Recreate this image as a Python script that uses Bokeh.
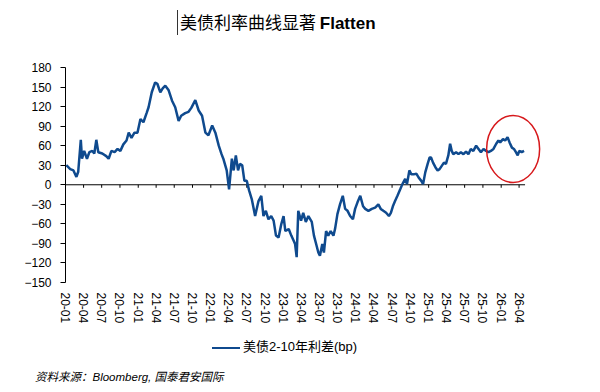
import pandas as pd
from bokeh.plotting import figure
from bokeh.layouts import column
from bokeh.models import (ColumnDataSource, FixedTicker, DatetimeTickFormatter, Div, Range1d)
from bokeh.embed import file_html
from bokeh.resources import INLINE

# ---------------- data ----------------
dates = [
    "2020-01-05", "2020-01-25", "2020-02-10", "2020-02-25", "2020-03-05", "2020-03-18", "2020-03-24",
    "2020-04-04", "2020-04-18", "2020-04-30", "2020-05-15", "2020-05-25", "2020-06-04", "2020-06-14",
    "2020-07-04", "2020-07-24", "2020-08-05", "2020-08-19", "2020-09-04", "2020-09-19", "2020-10-03",
    "2020-10-18", "2020-11-03", "2020-11-14", "2020-11-28", "2020-12-13", "2020-12-28", "2021-01-12",
    "2021-01-27", "2021-02-12", "2021-02-22", "2021-03-10", "2021-03-27", "2021-04-07", "2021-04-22",
    "2021-05-04", "2021-05-17", "2021-06-03", "2021-06-20", "2021-07-06", "2021-07-23", "2021-08-05",
    "2021-08-25", "2021-09-11", "2021-09-25", "2021-10-15", "2021-11-01", "2021-11-18", "2021-12-05",
    "2021-12-20", "2022-01-08", "2022-01-24", "2022-02-10", "2022-02-24", "2022-03-05", "2022-03-22",
    "2022-04-03", "2022-04-17", "2022-04-26", "2022-05-07", "2022-05-18", "2022-05-28", "2022-06-08",
    "2022-06-19", "2022-07-01", "2022-07-13", "2022-07-26", "2022-08-12", "2022-08-29", "2022-09-12",
    "2022-09-23", "2022-10-05", "2022-10-18", "2022-11-01", "2022-11-13", "2022-11-25", "2022-12-08",
    "2022-12-22", "2023-01-02", "2023-01-11", "2023-01-28", "2023-02-10", "2023-02-22", "2023-03-01",
    "2023-03-09", "2023-03-17", "2023-03-31", "2023-04-11", "2023-04-24", "2023-05-07", "2023-05-24",
    "2023-06-04", "2023-06-15", "2023-06-26", "2023-07-04", "2023-07-16", "2023-07-24", "2023-08-04",
    "2023-08-15", "2023-08-27", "2023-09-10", "2023-09-18", "2023-09-30", "2023-10-13", "2023-10-27",
    "2023-11-08", "2023-11-20", "2023-12-03", "2023-12-17", "2023-12-28", "2024-01-09", "2024-01-23",
    "2024-02-06", "2024-02-17", "2024-03-04", "2024-03-21", "2024-04-07", "2024-04-23", "2024-05-05",
    "2024-05-18", "2024-06-01", "2024-06-15", "2024-06-25", "2024-07-05", "2024-07-16", "2024-07-28",
    "2024-08-11", "2024-08-22", "2024-09-05", "2024-09-14", "2024-09-26", "2024-10-06", "2024-10-17",
    "2024-10-31", "2024-11-12", "2024-11-25", "2024-12-04", "2024-12-15", "2024-12-27", "2025-01-06",
    "2025-01-13", "2025-01-23", "2025-02-04", "2025-02-15", "2025-02-25", "2025-03-08", "2025-03-19",
    "2025-03-29", "2025-04-10", "2025-04-19", "2025-04-27", "2025-05-05", "2025-05-19", "2025-05-31",
    "2025-06-12", "2025-06-25", "2025-07-08", "2025-07-20", "2025-08-01", "2025-08-14", "2025-08-28",
    "2025-09-09", "2025-09-21", "2025-10-04", "2025-10-17", "2025-10-29", "2025-11-10", "2025-11-23",
    "2025-12-07", "2025-12-18", "2025-12-27", "2026-01-10", "2026-01-21", "2026-02-02", "2026-02-12",
    "2026-02-24", "2026-03-06", "2026-03-16", "2026-03-25", "2026-04-02", "2026-04-14", "2026-04-26",
]
spread = [
    30, 24, 22, 12, 20, 69, 40,
    52, 40, 50, 52, 48, 69, 50,
    48, 44, 40, 52, 50, 55, 52,
    62, 68, 80, 72, 80, 80, 101,
    96, 110, 119, 142, 157, 155, 142,
    148, 152, 145, 129, 119, 98, 106,
    110, 112, 118, 130, 114, 106, 80,
    76, 91, 80, 60, 47, 40, 22,
    -7, 40, 22, 45, 22, 32, 30,
    6, 6, -9, -22, -48, -25, -17,
    -48, -40, -53, -48, -55, -78, -81,
    -60, -48, -71, -68, -78, -86, -91,
    -111, -40, -55, -43, -57, -48, -57,
    -78, -91, -104, -109, -91, -104, -71,
    -78, -71, -78, -68, -45, -30, -17,
    -37, -40, -48, -53, -37, -27, -17,
    -33, -37, -40, -37, -35, -30, -37,
    -40, -43, -48, -43, -33, -25, -17,
    -7, 1, 9, 1, 22, 16, 16,
    17, 11, 6, 1, 19, 32, 42,
    42, 34, 27, 22, 24, 29, 34,
    32, 45, 63, 52, 47, 50, 47,
    50, 47, 51, 47, 55, 52, 60,
    55, 50, 55, 52, 50, 52, 55,
    63, 68, 65, 70, 68, 73, 65,
    57, 55, 50, 45, 52, 50, 52,
]
tick_months = [
    "2020-01", "2020-04", "2020-07", "2020-10", "2021-01", "2021-04", "2021-07", "2021-10",
    "2022-01", "2022-04", "2022-07", "2022-10", "2023-01", "2023-04", "2023-07", "2023-10",
    "2024-01", "2024-04", "2024-07", "2024-10", "2025-01", "2025-04", "2025-07", "2025-10",
    "2026-01", "2026-04",
]
y_ticks = [-150, -120, -90, -60, -30, 0, 30, 60, 90, 120, 150, 180]
axis_start = "2020-01-01"
axis_end = "2026-05-01"
view_end = "2026-09-01"
highlight_date = "2026-03-02"
highlight_value = 55

title_cn = "美债利率曲线显著"
title_en = "Flatten"
series_name = "美债2-10年利差(bp)"
source_text = "资料来源：Bloomberg, 国泰君安国际"

LINE_COLOR = "#0F4A8E"


def ms(s):
    return pd.Timestamp(s).value / 1e6


src = ColumnDataSource(dict(date=pd.to_datetime(dates), spread=spread))
tick_ms = [ms(m + "-01") for m in tick_months]

# ---------------- title ----------------
title_div = Div(
    text=(f'<div style="padding:10px 0 0 177px;font-family:\'Noto Sans CJK SC\';font-size:17px;'
          f'color:#000;white-space:nowrap;">'
          f'<span style="display:inline-block;border-left:1px solid #333;padding-left:2px;line-height:23px;">'
          f'{title_cn} <b style="font-family:\'Liberation Sans\';">{title_en}</b></span></div>'),
    width=592, height=46, margin=0)

# ---------------- chart ----------------
p = figure(width=592, height=290, x_axis_type="datetime",
           x_range=Range1d(pd.Timestamp(axis_start), pd.Timestamp(view_end)),
           y_range=Range1d(-150, 180),
           output_backend="svg", toolbar_location=None, margin=0,
           min_border_left=65, min_border_right=43, min_border_top=21, min_border_bottom=54)
p.outline_line_color = None
p.xgrid.visible = False
p.ygrid.visible = False
p.background_fill_color = "white"
p.border_fill_color = "white"

# y axis
p.yaxis.ticker = FixedTicker(ticks=y_ticks)
p.yaxis.axis_line_color = "black"
p.yaxis.major_tick_out = 5
p.yaxis.major_tick_in = 0
p.yaxis.minor_tick_out = 0
p.yaxis.minor_tick_in = 0
p.yaxis.major_label_standoff = 9
p.yaxis.major_label_text_font = "Liberation Sans"
p.yaxis.major_label_text_font_size = "12px"
p.yaxis.major_label_text_color = "black"

# x axis (labels only; axis line drawn at y = 0)
fmt = "%y-%m"
p.xaxis.ticker = FixedTicker(ticks=tick_ms)
p.xaxis.formatter = DatetimeTickFormatter(
    microseconds=fmt, milliseconds=fmt, seconds=fmt, minsec=fmt, minutes=fmt,
    hourmin=fmt, hours=fmt, days=fmt, months=fmt, years=fmt)
p.xaxis.major_label_orientation = "vertical"
p.xaxis.axis_line_color = None
p.xaxis.major_tick_out = 0
p.xaxis.major_tick_in = 0
p.xaxis.minor_tick_out = 0
p.xaxis.minor_tick_in = 0
p.xaxis.major_label_standoff = 10
p.xaxis.major_label_text_font = "Liberation Sans"
p.xaxis.major_label_text_font_size = "12px"
p.xaxis.major_label_text_color = "black"

# zero line acting as the x axis, with its tick marks
p.segment(x0=[pd.Timestamp(axis_start)], y0=[0], x1=[pd.Timestamp(axis_end)], y1=[0],
          line_color="black", line_width=1)
tick_dates = [pd.Timestamp(m + "-01") for m in tick_months]
p.segment(x0=tick_dates, y0=[0] * len(tick_dates), x1=tick_dates, y1=[-4.6] * len(tick_dates),
          line_color="black", line_width=1)

# series
r = p.line("date", "spread", source=src, line_color=LINE_COLOR, line_width=2.5)

# highlight ellipse
p.ellipse(x=[pd.Timestamp(highlight_date)], y=[highlight_value], width=53, height=67,
          width_units="screen", height_units="screen",
          fill_alpha=0, line_color="#D7191C", line_width=1.5)

# ---------------- legend ----------------
legend_div = Div(
    text=(f'<div style="padding-left:212px;height:22px;line-height:22px;white-space:nowrap;'
          f'font-family:\'Liberation Sans\',\'Noto Sans CJK SC\';font-size:13px;color:#000;">'
          f'<span style="display:inline-block;width:28px;border-top:2.5px solid {LINE_COLOR};'
          f'vertical-align:middle;margin-right:3px;"></span>{series_name}</div>'),
    width=592, height=22, margin=0)

# ---------------- source note ----------------
footer_div = Div(
    text=(f'<div style="padding:12px 0 0 35px;font-family:\'Liberation Sans\',\'Noto Sans CJK SC\';'
          f'font-style:italic;font-size:11.5px;line-height:14px;color:#000;white-space:nowrap;">'
          f'{source_text}</div>'),
    width=592, height=34, margin=0)

layout = column(title_div, p, legend_div, footer_div, spacing=0)
open("out.html", "w").write(file_html(layout, INLINE))
